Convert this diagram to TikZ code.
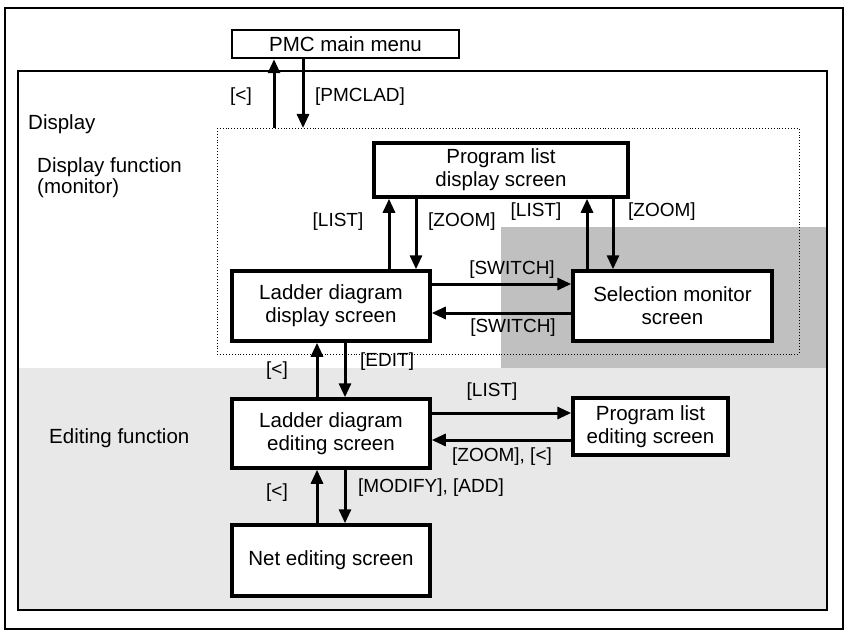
\documentclass[tikz,border=0pt]{standalone}
\usepackage{fontspec}
\setmainfont{Liberation Sans}
\usetikzlibrary{arrows.meta}
\definecolor{lightzone}{HTML}{E8E8E8}
\definecolor{darkzone}{HTML}{C0C0C0}
\tikzset{
  screenbox/.style={draw, line width=3.5pt, fill=white, align=center, inner sep=0pt,
    font=\fontsize{20.5}{23}\selectfont},
  lbl/.style={inner sep=0pt, font=\fontsize{19}{22}\selectfont},
  zonelbl/.style={inner sep=0pt, anchor=west, align=left, font=\fontsize{20.5}{21}\selectfont},
  arr/.style={line width=3pt, -{Triangle[width=12pt,length=14pt]}},
}
\begin{document}
\begin{tikzpicture}[x=1pt,y=-1pt]
\useasboundingbox (0,0) rectangle (845,631);
% regions
\fill[lightzone] (18,368) rectangle (827,610);
\fill[darkzone] (501,227) rectangle (827,368);
\draw[line width=1.2pt] (18,71) rectangle (827,610);
\draw[line width=2.2pt] (5,8) rectangle (843,629);
\draw[dotted, line width=0.9pt] (217,128) rectangle (799,354);
\coordinate (dtop) at (217,128);

% nodes
\node[screenbox, line width=2.5pt, minimum width=227pt, minimum height=28pt] (pmc) at (345.5,44) {PMC main menu};
\node[screenbox, minimum width=254pt, minimum height=54pt] (pld) at (501,170) {Program list\\display screen};
\node[screenbox, minimum width=198pt, minimum height=70pt] (lad) at (331,306) {Ladder diagram\\display screen};
\node[screenbox, minimum width=199pt, minimum height=70pt] (sel) at (672.5,306) {Selection monitor\\screen};
\node[screenbox, minimum width=198pt, minimum height=69pt] (led) at (331,433.5) {Ladder diagram\\editing screen};
\node[screenbox, minimum width=155pt, minimum height=57pt] (ple) at (650.5,426.5) {Program list\\editing screen};
\node[screenbox, minimum width=198pt, minimum height=71pt] (net) at (331,560.5) {Net editing screen};

% zone labels
\node[zonelbl] (zdisp) at (28,124) {Display};
\node[zonelbl] (zmon) at (37,178) {Display function\\(monitor)};
\node[zonelbl] (zedit) at (49,438) {Editing function};

% connectors
\draw[arr] (274,0 |- dtop) -- (274,0 |- pmc.south);
\draw[arr] (303,0 |- pmc.south) -- (303,0 |- dtop);
\draw[arr] (389,0 |- lad.north) -- (389,0 |- pld.south);
\draw[arr] (416,0 |- pld.south) -- (416,0 |- lad.north);
\draw[arr] (587,0 |- sel.north) -- (587,0 |- pld.south);
\draw[arr] (613,0 |- pld.south) -- (613,0 |- sel.north);
\draw[arr] (lad.east |- 0,284) -- (sel.west |- 0,284);
\draw[arr] (sel.west |- 0,313) -- (lad.east |- 0,313);
\draw[arr] (317,0 |- led.north) -- (317,0 |- lad.south);
\draw[arr] (345,0 |- lad.south) -- (345,0 |- led.north);
\draw[arr] (led.east |- 0,413) -- (ple.west |- 0,413);
\draw[arr] (ple.west |- 0,440) -- (led.east |- 0,440);
\draw[arr] (317,0 |- net.north) -- (317,0 |- led.south);
\draw[arr] (345,0 |- led.south) -- (345,0 |- net.north);

% connector labels
\node[lbl] (l1) at (241,97) {[<]};
\node[lbl, anchor=west] (l2) at (315,97) {[PMCLAD]};
\node[lbl] (l3) at (338,222) {[LIST]};
\node[lbl, anchor=west] (l4) at (428,222) {[ZOOM]};
\node[lbl] (l5) at (536,212) {[LIST]};
\node[lbl, anchor=west] (l6) at (628,212) {[ZOOM]};
\node[lbl] (l7) at (512,270) {[SWITCH]};
\node[lbl] (l8) at (513,328) {[SWITCH]};
\node[lbl] (l9) at (277,371) {[<]};
\node[lbl, anchor=west] (l10) at (360,362) {[EDIT]};
\node[lbl] (l11) at (492,392) {[LIST]};
\node[lbl] (l12) at (502,457) {[ZOOM], [<]};
\node[lbl] (l13) at (277,493) {[<]};
\node[lbl, anchor=west] (l14) at (358,488) {[MODIFY], [ADD]};
\end{tikzpicture}
\end{document}
